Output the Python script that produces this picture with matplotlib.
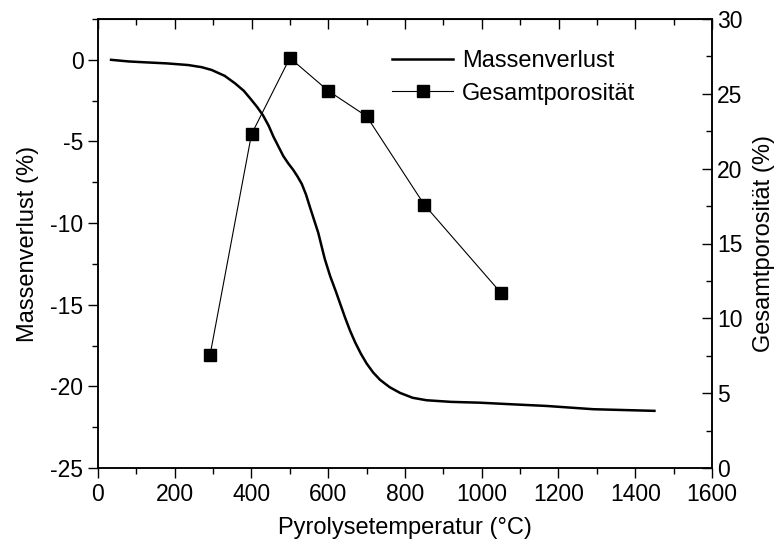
import matplotlib
matplotlib.use('Agg')
from matplotlib import pyplot as plt
from matplotlib.ticker import MultipleLocator

plt.rcParams['font.family'] = ['Liberation Sans', 'DejaVu Sans']
plt.rcParams['axes.unicode_minus'] = False

# Massenverlust curve (temperature in °C, mass loss in %)
temp = [34, 80, 120, 180, 235, 270, 296, 330, 357, 380, 400, 415, 430, 445,
        457, 470, 483, 496, 509, 520, 531, 542, 552, 563, 574, 583, 591, 605,
        620, 632, 644, 657, 670, 685, 700, 717, 735, 760, 787, 820, 856, 920,
        995, 1080, 1169, 1230, 1291, 1370, 1450]
mass_loss = [0.0, -0.1, -0.15, -0.22, -0.32, -0.45, -0.62, -0.98, -1.44,
             -1.9, -2.46, -2.9, -3.4, -4.05, -4.7, -5.3, -5.9, -6.35, -6.75,
             -7.15, -7.6, -8.25, -9.0, -9.8, -10.6, -11.45, -12.2, -13.25,
             -14.2, -15.0, -15.8, -16.6, -17.3, -18.0, -18.6, -19.15, -19.6,
             -20.05, -20.4, -20.7, -20.85, -20.95, -21.0, -21.1, -21.2, -21.3,
             -21.4, -21.45, -21.5]

# Gesamtporosität points
por_temp = [292, 400, 500, 600, 700, 850, 1050]
porosity = [7.55, 22.3, 27.4, 25.2, 23.5, 17.6, 11.7]

fs = 17
fig = plt.figure(figsize=(7.82, 5.48), dpi=100)
ax = fig.add_axes([98/782, 1 - 468/548, (712 - 98)/782, (468 - 19)/548])
ax2 = ax.twinx()

l1, = ax.plot(temp, mass_loss, color='black', linewidth=1.8, label='Massenverlust')
l2, = ax2.plot(por_temp, porosity, color='black', linewidth=0.8, marker='s',
               markersize=8, label='Gesamtporosität')

ax.set_xlim(0, 1600)
ax.set_ylim(-25, 2.5)
ax2.set_ylim(0, 30)

ax.xaxis.set_major_locator(MultipleLocator(200))
ax.xaxis.set_minor_locator(MultipleLocator(100))
ax.yaxis.set_major_locator(MultipleLocator(5))
ax.yaxis.set_minor_locator(MultipleLocator(2.5))
ax2.yaxis.set_major_locator(MultipleLocator(5))
ax2.yaxis.set_minor_locator(MultipleLocator(2.5))

ax.tick_params(which='major', direction='out', length=7, width=1, labelsize=fs - 0.5)
ax.tick_params(which='minor', direction='out', length=4, width=1)
ax2.tick_params(which='major', direction='in', length=7, width=1, labelsize=fs - 0.5)
ax2.tick_params(which='minor', direction='in', length=4, width=1)

# top axis ticks pointing inward, no labels
top = ax.secondary_xaxis('top')
top.xaxis.set_major_locator(MultipleLocator(200))
top.xaxis.set_minor_locator(MultipleLocator(100))
top.tick_params(which='major', direction='in', length=7, width=1, labeltop=False)
top.tick_params(which='minor', direction='in', length=4, width=1)

for a in (ax, ax2):
    for s in a.spines.values():
        s.set_linewidth(1.1)

ax.set_xlabel('Pyrolysetemperatur (°C)', fontsize=fs, labelpad=8)
ax.set_ylabel('Massenverlust (%)', fontsize=fs, labelpad=8)
ax2.set_ylabel('Gesamtporosität (%)', fontsize=fs, labelpad=8)

ax2.legend(handles=[l1, l2], loc='upper left', frameon=False, fontsize=fs,
           bbox_to_anchor=(392/782, 1 - 50/548), bbox_transform=fig.transFigure,
           borderpad=0, borderaxespad=0, handlelength=2.6, handletextpad=0.35,
           labelspacing=0.45)

fig.savefig('out.png', dpi=100)
